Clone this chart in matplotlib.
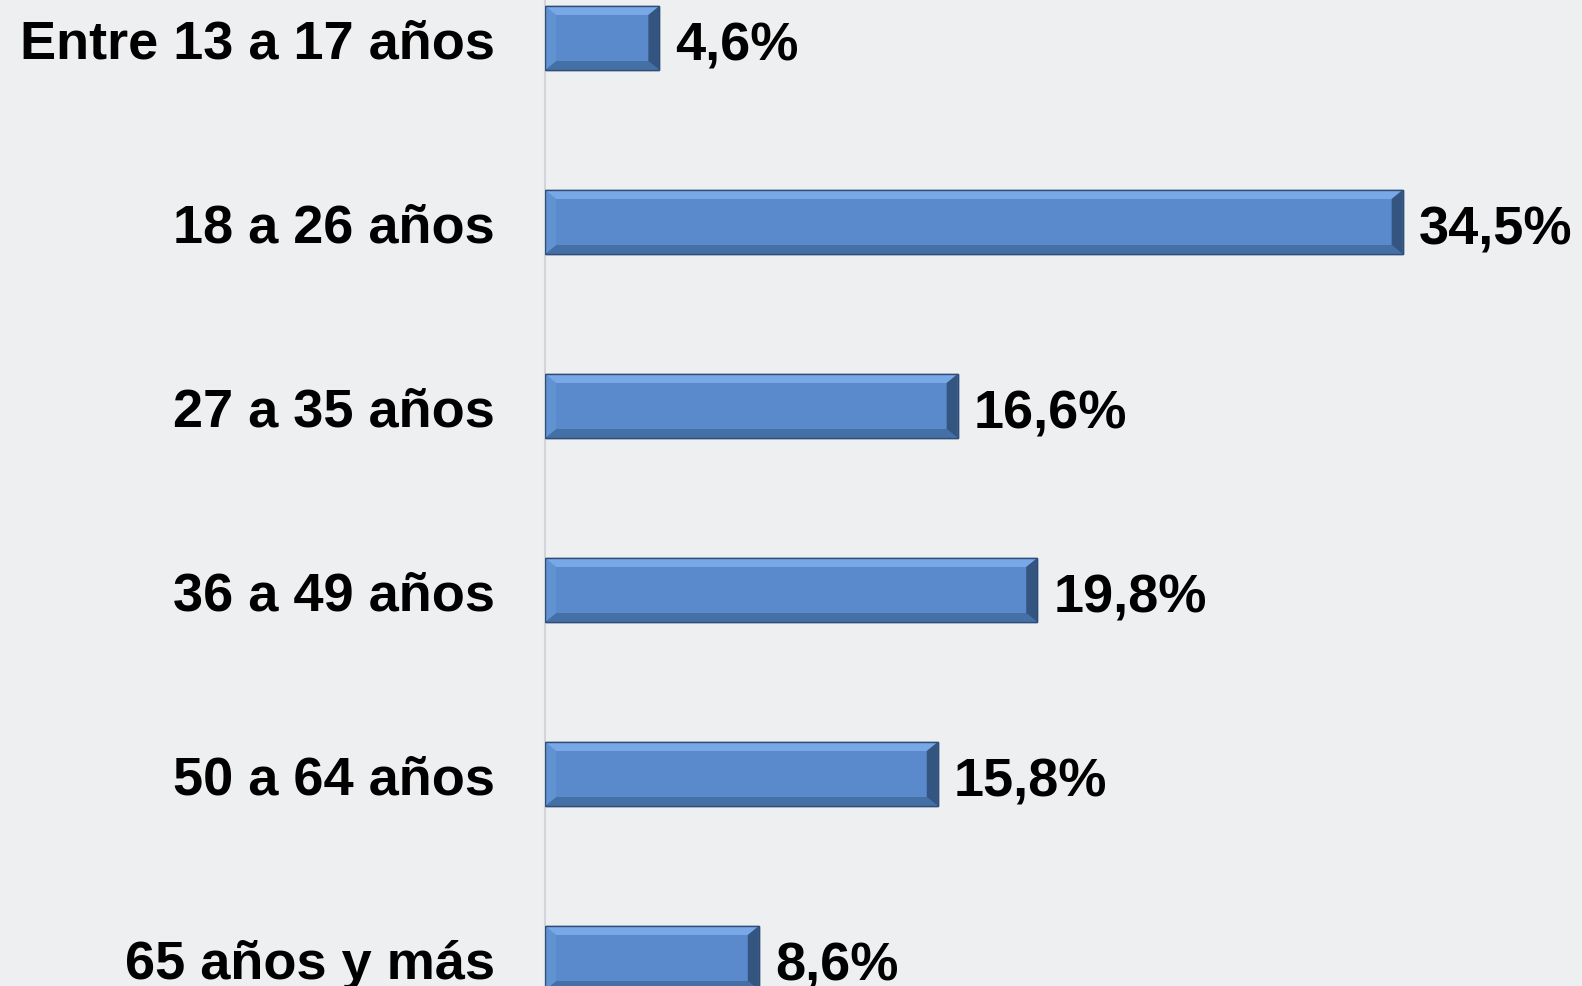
import numpy as np
import matplotlib.pyplot as plt
from matplotlib.patches import Polygon

categories = ["Entre 13 a 17 años", "18 a 26 años", "27 a 35 años",
              "36 a 49 años", "50 a 64 años", "65 años y más"]
values = [4.6, 34.5, 16.6, 19.8, 15.8, 8.6]
value_labels = ["4,6%", "34,5%", "16,6%", "19,8%", "15,8%", "8,6%"]

plt.rcParams['font.family'] = ['Liberation Sans', 'DejaVu Sans']

W, H = 1582, 987
fig = plt.figure(figsize=(W / 100, H / 100), dpi=100)
bg = '#EEEFF1'
fig.patch.set_facecolor(bg)

# layout in pixels
axis_px = 545
px_per_unit = 24.86
row_px = 184
first_center = 39
left = axis_px / W
ax = fig.add_axes([left, 0, 1 - left, 1])
ax.set_facecolor(bg)
ax.set_xlim(0, (W - axis_px) / px_per_unit)
ax.set_ylim((H - first_center) / row_px, -first_center / row_px)

bar_h = 64 / row_px
pos = np.arange(len(categories))
bars = ax.barh(pos, values, height=bar_h, color='#5A8ACB',
               edgecolor='#2E4D78', linewidth=1.0, zorder=2)

# bevel effect
bx = 11 / px_per_unit
by = 9 / row_px
for b in bars:
    x0, y0 = b.get_x(), b.get_y()
    x1, y1 = x0 + b.get_width(), y0 + b.get_height()
    top = [(x0, y0), (x1, y0), (x1 - bx, y0 + by), (x0 + bx, y0 + by)]
    bottom = [(x0, y1), (x1, y1), (x1 - bx, y1 - by), (x0 + bx, y1 - by)]
    leftb = [(x0, y0), (x0 + bx, y0 + by), (x0 + bx, y1 - by), (x0, y1)]
    rightb = [(x1, y0), (x1 - bx, y0 + by), (x1 - bx, y1 - by), (x1, y1)]
    ax.add_patch(Polygon(top, closed=True, facecolor='#78A8E6', edgecolor='none', zorder=3))
    ax.add_patch(Polygon(bottom, closed=True, facecolor='#4570A6', edgecolor='none', zorder=3))
    ax.add_patch(Polygon(leftb, closed=True, facecolor='#6193D3', edgecolor='none', zorder=3))
    ax.add_patch(Polygon(rightb, closed=True, facecolor='#34557F', edgecolor='none', zorder=3))
    ax.add_patch(plt.Rectangle((x0, y0), x1 - x0, y1 - y0, fill=False,
                               edgecolor='#2E4D78', linewidth=1.0, zorder=4))

for i, (v, lab) in enumerate(zip(values, value_labels)):
    ax.text(v + 16 / px_per_unit, i + 0.01, lab, va='center_baseline', ha='left',
            fontsize=39, fontweight='bold', color='black', zorder=5)

ax.set_yticks(pos)
ax.set_yticklabels(categories, fontsize=39, fontweight='bold')
ax.tick_params(axis='y', length=0, pad=36)
ax.set_xticks([])
for s in ['top', 'right', 'bottom']:
    ax.spines[s].set_visible(False)
ax.spines['left'].set_color('#D4D5D8')
ax.spines['left'].set_linewidth(1.5)

fig.savefig('out.png', dpi=100, facecolor=bg)
